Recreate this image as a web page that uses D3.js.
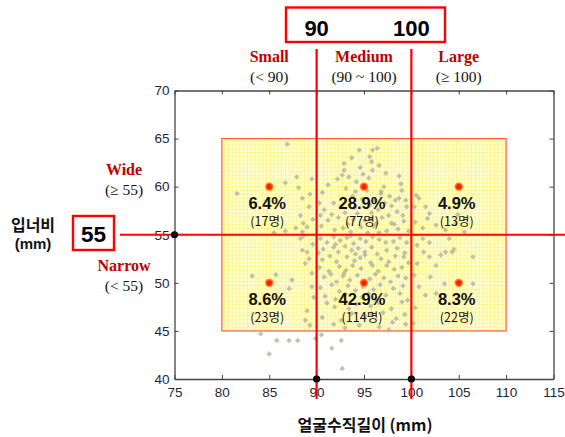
<!DOCTYPE html>
<html><head><meta charset="utf-8">
<script src="https://cdn.jsdelivr.net/npm/d3@7"></script>
<style>
html,body{margin:0;padding:0;background:#fff;}
svg{display:block;}
</style></head>
<body><svg id="c" width="565" height="437"></svg>
<script>
// ---------- data ----------
const xTicks = [75, 80, 85, 90, 95, 100, 105, 110, 115];
const yTicks = [40, 45, 50, 55, 60, 65, 70];
const xCuts = [90, 100];
const yCut = 55;
const zoneX = [80, 110];
const zoneY = [45, 65];
const sizeNames = ["Small", "Medium", "Large"];
const sizeRanges = ["(< 90)", "(90 ~ 100)", "(\u2265 100)"];
const sizeCenters = [85, 95, 105];
const widthNames = ["Wide", "Narrow"];
const widthRanges = ["(\u2265 55)", "(< 55)"];
const widthCenters = [60, 50];
const quadX = [85, 95, 105, 85, 95, 105];
const quadY = [60, 60, 60, 50, 50, 50];
const quadPct = ["6.4%", "28.9%", "4.9%", "8.6%", "42.9%", "8.3%"];
const quadN = ["(17명)", "(77명)", "(13명)", "(23명)", "(114명)", "(22명)"];

// face length (x, mm) / mouth width (y, mm) per group
const ptsSmallWide = [[86.9,64.4],[87.9,61.0],[86.7,60.4],[81.6,59.3],[88.1,59.9],[88.5,58.8],[88.3,57.0],[87.8,55.7],[86.7,55.4],[89.2,57.9],[88.6,56.2],[88.5,55.3],[89.5,60.8],[89.0,55.8],[89.6,56.6],[89.3,59.2],[85.5,55.2]];
const ptsLargeWide = [[100.5,59.1],[100.8,58.8],[100.3,57.9],[101.5,57.9],[101.9,57.2],[101.7,56.7],[101.2,55.7],[104.7,56.2],[104.9,57.1],[102.6,56.0],[103.6,55.5],[100.4,56.3],[105.6,55.3]];
const ptsMediumWide = [[90.3,58.3],[90.8,57.6],[91.2,56.5],[90.5,55.9],[91.6,57.1],[91.8,58.3],[90.6,59.4],[91.9,55.5],[92.3,56.8],[92.6,57.9],[91.2,60.2],[90.4,57.0],
 [92.9,62.4],[92.9,61.7],[93.4,61.0],[93.1,59.8],[93.8,59.0],[92.7,61.2],[93.5,58.2],[93.0,57.3],[93.9,56.6],[92.8,55.7],[93.6,55.3],[94.0,57.8],[93.3,56.1],[94.2,60.5],[92.2,60.8],[93.7,63.0],
 [94.5,63.8],[95.9,63.8],[96.4,64.0],[95.6,63.1],[95.8,62.6],[95.9,61.7],[95.5,60.9],[94.6,62.0],[95.3,59.6],[94.8,58.7],[95.6,58.1],[94.3,57.2],[95.1,56.5],[95.8,57.3],[94.7,55.8],[95.4,55.2],[96.0,55.9],[94.9,61.3],[94.1,59.5],[95.7,56.6],
 [97.1,60.0],[96.8,59.5],[96.8,59.3],[97.2,58.3],[96.5,57.6],[97.6,57.0],[96.3,56.2],[97.9,56.2],[97.4,55.4],[96.6,55.2],[97.7,59.0],[96.2,58.6],[97.3,61.4],[96.6,62.2],[97.9,58.0],[96.9,56.8],
 [98.7,61.1],[98.7,58.8],[98.5,57.4],[98.3,58.6],[99.2,56.4],[98.6,55.6],[99.5,57.9],[99.0,59.6],[98.2,56.1],[99.7,55.4],[99.1,57.0],[98.9,60.3],[99.4,58.6]];
const ptsSmallNarrow = [[83.2,50.7],[85.7,50.85],[87.4,50.3],[87.1,49.4],[89.0,53.2],[88.5,53.4],[89.2,52.5],[88.8,52.0],[89.5,49.6],[89.0,47.1],[88.8,46.1],[84.1,44.7],[85.8,44.0],[87.1,44.0],[88.0,44.0],[85.0,42.6],[89.9,44.2],[88.3,54.6],[88.6,54.9],[89.5,51.0],[89.6,54.0],[89.7,48.5],[89.3,45.6]];
const ptsLargeNarrow = [[100.6,53.9],[101.3,53.2],[101.9,52.7],[102.6,51.8],[103.1,52.9],[103.6,53.2],[104.3,53.2],[104.5,53.5],[106.5,52.7],[100.6,52.0],[103.5,49.9],[106.5,49.9],[101.5,48.7],[102.6,48.9],[104.0,54.6],[101.2,54.6],[100.3,50.8],[100.8,49.6],[102.0,50.6],[100.4,47.4],[101.9,54.2],[100.2,45.8]];
const ptsMediumNarrow = [[90.5,44.6],[92.6,44.0],[91.6,43.2],[92.7,41.1],[97.6,45.1],
 [90.4,54.6],[91.1,54.2],[91.8,54.8],[92.5,54.4],[93.2,54.7],[93.9,54.1],[94.6,54.6],[95.2,54.3],[95.9,54.8],[96.6,54.5],[97.3,54.2],[98.1,54.3],[98.8,54.7],[99.5,54.2],[92.0,54.0],
 [90.7,53.5],[91.8,53.7],[92.3,53.2],[93.0,53.8],[93.7,53.4],[94.4,53.6],[95.1,53.2],[95.8,53.7],[96.4,53.0],[97.4,53.4],[98.5,53.6],[99.3,53.1],[90.2,53.1],[94.1,53.0],
 [90.6,52.4],[91.4,52.8],[92.1,52.2],[93.2,52.7],[94.0,52.3],[95.1,52.9],[95.7,52.1],[96.8,52.5],[97.6,52.2],[98.3,52.8],[99.2,52.7],[99.7,52.1],[94.6,52.6],
 [90.3,51.6],[91.3,51.2],[92.4,51.7],[93.1,51.3],[93.8,51.8],[94.7,51.5],[95.9,51.8],[96.5,51.2],[97.4,51.8],[98.2,51.4],[99.0,51.6],[92.9,51.0],
 [90.8,50.6],[92.1,50.1],[92.8,50.7],[93.5,50.3],[94.3,50.8],[95.6,50.4],[96.2,50.9],[97.1,50.5],[97.8,50.1],[98.6,50.7],[99.4,50.5],[91.5,50.9],
 [90.4,49.5],[91.6,49.8],[93.3,49.7],[94.1,49.2],[94.9,49.6],[96.0,49.3],[96.7,49.8],[98.1,49.4],[99.1,49.7],[92.4,49.1],
 [90.9,48.6],[92.0,48.3],[93.0,48.8],[94.8,48.5],[96.2,48.3],[97.3,48.7],[98.8,48.9],[99.6,48.2],[95.5,48.9],
 [91.1,47.9],[91.9,47.5],[93.4,47.3],[94.2,47.8],[95.7,47.6],[97.9,47.3],[99.0,48.0],[96.6,47.9],
 [90.6,46.4],[92.6,46.1],[93.7,46.8],[95.1,46.5],[95.8,46.8],[97.0,46.9],[98.4,46.3],[99.3,46.7],
 [91.8,45.7],[93.0,45.3],[94.5,45.6],[96.6,45.4],[99.4,45.7],[98.0,45.9],[95.0,50.0],[93.6,54.9]];

// ---------- drawing ----------
const svg = d3.select("#c");
const x = d3.scaleLinear().domain([75, 115]).range([174.5, 553.5]);
const y = d3.scaleLinear().domain([40, 70]).range([379, 90.5]);
const sans = "'Liberation Sans', Arial, sans-serif";
const serif = "'Liberation Serif', 'Times New Roman', serif";
const kr = "'Noto Sans CJK KR', 'Noto Sans', sans-serif";

// pattern for highlighted zone
const defs = svg.append("defs");
const pat = defs.append("pattern").attr("id", "grid").attr("patternUnits", "userSpaceOnUse")
  .attr("width", 3.8).attr("height", 3.8);
pat.append("rect").attr("width", 3.8).attr("height", 3.8).attr("fill", "#ffffd2");
pat.append("path").attr("d", "M0,0.4H3.8M0.4,0V3.8").attr("stroke", "#fff27e").attr("stroke-width", 0.8);

svg.append("rect")
  .attr("x", x(zoneX[0])).attr("y", y(zoneY[1]))
  .attr("width", x(zoneX[1]) - x(zoneX[0])).attr("height", y(zoneY[0]) - y(zoneY[1]))
  .attr("fill", "url(#grid)").attr("stroke", "#ff5a3a").attr("stroke-width", 1.2);

// points
const allPts = [].concat(ptsSmallWide, ptsMediumWide, ptsLargeWide, ptsSmallNarrow, ptsMediumNarrow, ptsLargeNarrow);
const diamond = d3.symbol().type(d3.symbolSquare).size(15);
svg.append("g").selectAll("path").data(allPts).join("path")
  .attr("d", diamond)
  .attr("transform", d => `translate(${x(d[0])},${y(d[1])}) rotate(45)`)
  .attr("fill", "#aeae9e").attr("fill-opacity", 0.75);

// frame + axes
const axisColor = "#444";
const gB = svg.append("g").attr("transform", `translate(0,${y(40)})`)
  .call(d3.axisBottom(x).tickValues(xTicks).tickSizeInner(-4).tickSizeOuter(0).tickPadding(7));
const gT = svg.append("g").attr("transform", `translate(0,${y(70)})`)
  .call(d3.axisTop(x).tickValues(xTicks).tickSizeInner(-4).tickSizeOuter(0).tickFormat(""));
const gL = svg.append("g").attr("transform", `translate(${x(75)},0)`)
  .call(d3.axisLeft(y).tickValues(yTicks).tickSizeInner(-4).tickSizeOuter(0).tickPadding(6));
const gR = svg.append("g").attr("transform", `translate(${x(115)},0)`)
  .call(d3.axisRight(y).tickValues(yTicks).tickSizeInner(-4).tickSizeOuter(0).tickFormat(""));
[gB, gT, gL, gR].forEach(g => {
  g.select(".domain").attr("stroke", axisColor).attr("stroke-width", 1.3);
  g.selectAll(".tick line").attr("stroke", axisColor);
  g.selectAll("text").attr("fill", "#1e2538").style("font-family", sans).style("font-size", "13.5px");
});
gB.selectAll("text").attr("dy", "0.71em").attr("y", 8);
gL.selectAll("text").attr("x", -5);

// red cut lines
const red = "#ff0000";
svg.append("g").selectAll("line").data(xCuts).join("line")
  .attr("x1", d => x(d)).attr("x2", d => x(d)).attr("y1", 49).attr("y2", 399)
  .attr("stroke", red).attr("stroke-width", 2.2);
svg.append("line").attr("x1", 120).attr("x2", 565).attr("y1", y(yCut)).attr("y2", y(yCut))
  .attr("stroke", red).attr("stroke-width", 2.2);

// black dots where cuts meet axes
const dots = xCuts.map(v => [x(v), y(40)]).concat([[x(75), y(yCut)]]);
svg.append("g").selectAll("circle").data(dots).join("circle")
  .attr("cx", d => d[0]).attr("cy", d => d[1]).attr("r", 3.6).attr("fill", "#000");

// top value box
svg.append("rect").attr("x", 286).attr("y", 7.5).attr("width", 159).attr("height", 34.5)
  .attr("fill", "none").attr("stroke", red).attr("stroke-width", 2.4);
svg.append("g").selectAll("text").data(xCuts).join("text")
  .attr("x", d => x(d)).attr("y", 36).attr("text-anchor", "middle")
  .style("font-family", sans).style("font-weight", "bold").style("font-size", "22px")
  .attr("fill", "#000").text(d => d);

// left value box
svg.append("rect").attr("x", 73).attr("y", 216).attr("width", 41).attr("height", 34)
  .attr("fill", "none").attr("stroke", red).attr("stroke-width", 2.4);
svg.append("text").attr("x", 93.5).attr("y", 242).attr("text-anchor", "middle")
  .style("font-family", sans).style("font-weight", "bold").style("font-size", "22.5px")
  .attr("fill", "#000").text(yCut);

// size category labels (top)
svg.append("g").selectAll("text").data(sizeNames).join("text")
  .attr("x", (d, i) => x(sizeCenters[i])).attr("y", 62).attr("text-anchor", "middle")
  .style("font-family", serif).style("font-weight", "bold").style("font-size", "16px")
  .attr("fill", "#c00000").text(d => d);
svg.append("g").selectAll("text").data(sizeRanges).join("text")
  .attr("x", (d, i) => x(sizeCenters[i])).attr("y", 82).attr("text-anchor", "middle")
  .style("font-family", serif).style("font-size", "15.5px")
  .attr("fill", "#111").text(d => d);

// width category labels (left)
svg.append("g").selectAll("text").data(widthNames).join("text")
  .attr("x", 124).attr("y", (d, i) => y(widthCenters[i]) - 11.5).attr("text-anchor", "middle")
  .style("font-family", serif).style("font-weight", "bold").style("font-size", "16px")
  .attr("fill", "#c00000").text(d => d);
svg.append("g").selectAll("text").data(widthRanges).join("text")
  .attr("x", 124).attr("y", (d, i) => y(widthCenters[i]) + 8.5).attr("text-anchor", "middle")
  .style("font-family", serif).style("font-size", "15.5px")
  .attr("fill", "#111").text(d => d);

// axis titles
svg.append("text").attr("x", 33).attr("y", 231).attr("text-anchor", "middle")
  .style("font-family", kr).style("font-weight", "bold").style("font-size", "16px")
  .attr("fill", "#111").text("입너비");
svg.append("text").attr("x", 33).attr("y", 249).attr("text-anchor", "middle")
  .style("font-family", sans).style("font-weight", "bold").style("font-size", "15px")
  .attr("fill", "#111").text("(mm)");
svg.append("text").attr("x", 365).attr("y", 431).attr("text-anchor", "middle")
  .style("font-family", kr).style("font-weight", "bold").style("font-size", "16px")
  .attr("fill", "#111").text("얼굴수직길이 (mm)");

// quadrant markers and labels
const qg = svg.append("g");
qg.selectAll("circle.o").data(quadX).join("circle").attr("class", "o")
  .attr("cx", (d) => x(d)).attr("cy", (d, i) => y(quadY[i])).attr("r", 4.2).attr("fill", "#ff7a1a");
qg.selectAll("circle.i").data(quadX).join("circle").attr("class", "i")
  .attr("cx", (d) => x(d)).attr("cy", (d, i) => y(quadY[i])).attr("r", 2.6).attr("fill", "#ff1a00");
qg.selectAll("text.p").data(quadPct).join("text").attr("class", "p")
  .attr("x", (d, i) => x(quadX[i]) - 2).attr("y", (d, i) => y(quadY[i]) + 22.5)
  .attr("text-anchor", "middle").style("font-family", sans).style("font-weight", "bold")
  .style("font-size", "16.5px").attr("fill", "#111").text(d => d);
qg.selectAll("text.n").data(quadN).join("text").attr("class", "n")
  .attr("x", (d, i) => x(quadX[i]) - 2).attr("y", (d, i) => y(quadY[i]) + 39.5)
  .attr("text-anchor", "middle").style("font-family", kr)
  .style("font-size", "12.5px").attr("fill", "#111").text(d => d);
</script></body></html>
